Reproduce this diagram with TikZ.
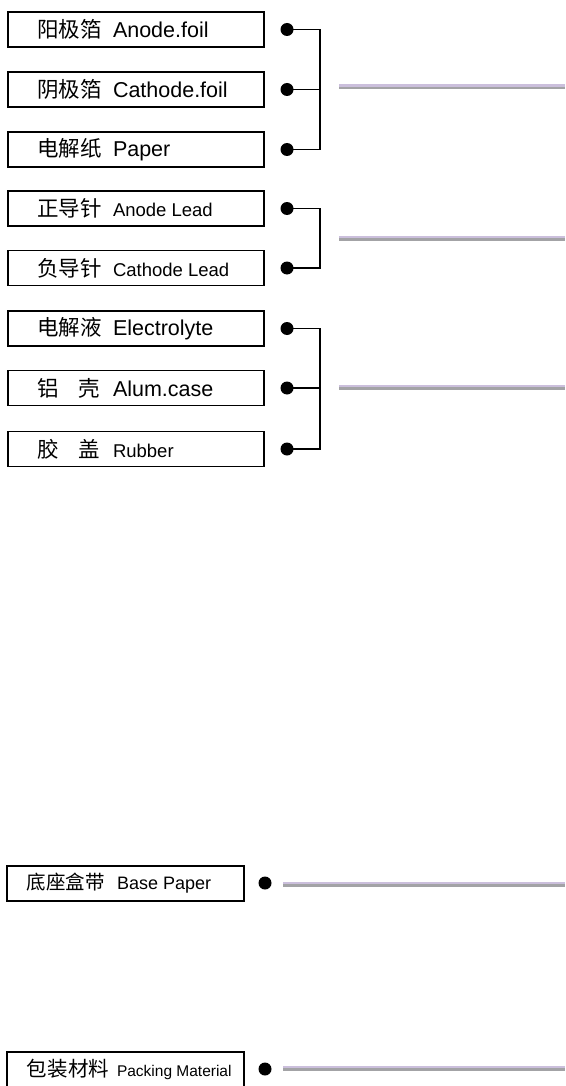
\documentclass[tikz,border=0pt]{standalone}
\usepackage{fontspec}
\setmainfont{Liberation Sans}
\newfontfamily\zh{Noto Sans CJK SC}
\newcommand{\cn}[2][76pt]{\makebox[#1][l]{\zh #2}}
\newcommand{\cnsp}[2]{\makebox[76pt][l]{\zh\makebox[63pt][s]{#1\hfill #2}}}
\newcommand{\sm}{\fontsize{18.5}{19}\selectfont}
\definecolor{barlav}{HTML}{CBBFDC}
\definecolor{bargray}{HTML}{A3A3A6}

\begin{document}
\begin{tikzpicture}[x=1pt,y=-1pt]
\tikzstyle{partbox}=[draw, line width=1.2pt, minimum width=256pt, minimum height=35pt, inner ysep=0pt, inner xsep=29pt, font=\fontsize{21.5}{22}\selectfont]
\tikzstyle{pkgbox}=[partbox, minimum width=237pt, inner xsep=20pt, font=\fontsize{19.5}{20}\selectfont]
\tikzstyle{dot}=[circle, fill=black, minimum size=13pt, inner sep=0pt]
\tikzstyle{bracket}=[line width=1.5pt]
\tikzstyle{bar}=[line width=5pt, draw=bargray, postaction={draw=barlav, line width=2.5pt, transform canvas={yshift=1.25pt}}]
\useasboundingbox (0,0) rectangle (565,1086);
% parts
\node[partbox] (anode) at (136,29.5) {\makebox[198pt][l]{\cn{阳极箔}Anode.foil}};
\node[partbox] (cathode) at (136,89.5) {\makebox[198pt][l]{\cn{阴极箔}Cathode.foil}};
\node[partbox] (paper) at (136,149.5) {\makebox[198pt][l]{\cn{电解纸}Paper}};
\node[partbox] (alead) at (136,208.5) {\makebox[198pt][l]{\cn{正导针}\sm Anode Lead}};
\node[partbox] (clead) at (136,268) {\makebox[198pt][l]{\cn{负导针}\sm Cathode Lead}};
\node[partbox] (elyte) at (136,328.5) {\makebox[198pt][l]{\cn{电解液}Electrolyte}};
\node[partbox] (case) at (136,388) {\makebox[198pt][l]{\cnsp{铝}{壳}Alum.case}};
\node[partbox] (rubber) at (136,449) {\makebox[198pt][l]{\cnsp{胶}{盖}\sm Rubber}};
\node[pkgbox] (base) at (125.5,883.5) {\makebox[197pt][l]{\cn[90pt]{底座盒带}\fontsize{18}{19}\selectfont Base Paper}};
\node[pkgbox] (pack) at (125.5,1069.5) {\makebox[197pt][l]{\cn[90pt]{\fontsize{20.5}{21}\selectfont 包装材料}\fontsize{15.5}{16}\selectfont Packing Material}};
% dots
\node[dot] (d1) at (287,29.5) {};
\node[dot] (d2) at (287,89.5) {};
\node[dot] (d3) at (287,149.5) {};
\node[dot] (d4) at (287,208.5) {};
\node[dot] (d5) at (287,268) {};
\node[dot] (d6) at (287,328.5) {};
\node[dot] (d7) at (287,388) {};
\node[dot] (d8) at (287,449) {};
\node[dot] (d9) at (265,883) {};
\node[dot] (d10) at (265,1069) {};
% brackets
\coordinate (j1) at (320,89.5);
\coordinate (j2) at (320,238);
\coordinate (j3) at (320,388);
\draw[bracket] (d1.center) -| (j1) |- (d3.center);
\draw[bracket] (d2.center) -- (j1);
\draw[bracket] (d4.center) -| (j2) |- (d5.center);
\draw[bracket] (d6.center) -| (j3) |- (d8.center);
\draw[bracket] (d7.center) -- (j3);
% bars
\coordinate (bs1) at (339,87);   \coordinate (be1) at (565,87);
\coordinate (bs2) at (339,238);  \coordinate (be2) at (565,238);
\coordinate (bs3) at (339,387);  \coordinate (be3) at (565,387);
\coordinate (bs4) at (283,884);  \coordinate (be4) at (565,884);
\coordinate (bs5) at (283,1068); \coordinate (be5) at (565,1068);
\draw[bar] (bs1) -- (be1);
\draw[bar] (bs2) -- (be2);
\draw[bar] (bs3) -- (be3);
\draw[bar] (bs4) -- (be4);
\draw[bar] (bs5) -- (be5);
\end{tikzpicture}
\end{document}
